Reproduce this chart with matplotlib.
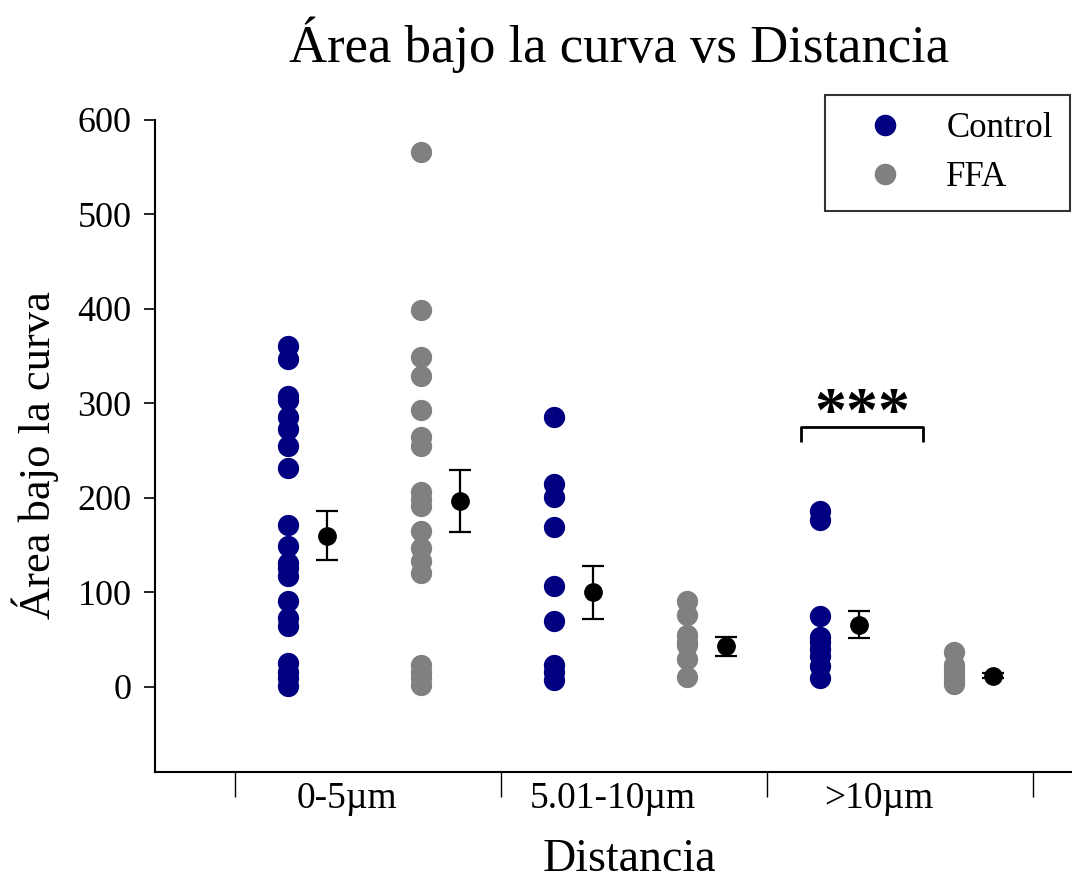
import numpy as np
import matplotlib
matplotlib.use("Agg")
import matplotlib.pyplot as plt
from matplotlib.lines import Line2D

plt.rcParams['font.family'] = ['Liberation Serif', 'DejaVu Serif']

groups = ["0-5µm", "5.01-10µm", ">10µm"]
ctrl_0_5 = [361, 347, 308, 304, 286, 273, 255, 232, 171, 149, 131, 126, 117, 91, 73, 65, 25, 16, 9, 1]
ffa_0_5 = [566, 399, 349, 329, 293, 265, 255, 206, 199, 191, 165, 147, 133, 121, 23, 16, 9, 2]
ctrl_5_10 = [286, 215, 201, 169, 107, 70, 23, 16, 7]
ffa_5_10 = [91, 76, 55, 48, 44, 30, 11]
ctrl_10 = [186, 177, 75, 53, 48, 40, 33, 22, 10]
ffa_10 = [37, 23, 18, 13, 7, 3]
means = [160, 197, 100, 43, 66, 12]
sems = [26, 33, 28, 10, 14, 3]

series = [ctrl_0_5, ffa_0_5, ctrl_5_10, ffa_5_10, ctrl_10, ffa_10]
navy = "#000080"
grey = "#808080"

fig = plt.figure(figsize=(10.72, 8.82), dpi=100)
ax = fig.add_axes([155/1072, 1-772/882, 1-155/1072, (772-120)/882])

for i, vals in enumerate(series):
    col = navy if i % 2 == 0 else grey
    ax.scatter([i]*len(vals), vals, s=235, color=col, linewidths=0, zorder=3, clip_on=False)
    ax.errorbar(i + 0.293, means[i], yerr=sems[i], fmt='o', color='black',
                markersize=12.5, elinewidth=1.6, capsize=8, capthick=1.6, zorder=4)

# significance bracket
bx0, bx1, by, bdrop = 3.857, 4.774, 275, 16
ax.plot([bx0, bx0, bx1, bx1], [by-bdrop, by, by, by-bdrop], color='black', lw=2, solid_capstyle='butt')
ax.text((bx0+bx1)/2, by-19, "***", ha='center', va='bottom', fontsize=46, fontweight='bold')

ax.set_xlim(-1.0, 5.89)
ax.set_ylim(-90, 600)
ax.set_yticks([0, 100, 200, 300, 400, 500, 600])
ax.tick_params(axis='y', direction='out', length=8, width=1.2, labelsize=26, pad=9)

ax.set_xticks([-0.4, 1.6, 3.6, 5.6])
ax.set_xticklabels([])
ax.tick_params(axis='x', which='major', direction='out', length=18, width=1, pad=0)
ax.set_xticks([0.44, 2.44, 4.44], minor=True)
ax.set_xticklabels(groups, minor=True)
ax.tick_params(axis='x', which='minor', length=0, labelsize=27, pad=7)

for s in ['top', 'right']:
    ax.spines[s].set_visible(False)
for s in ['left', 'bottom']:
    ax.spines[s].set_linewidth(1.5)

fig.text(619/1072, 1-45/882, "Área bajo la curva vs Distancia", ha='center', va='center', fontsize=38)
fig.text(35/1072, 1-455/882, "Área bajo la curva", ha='center', va='center', rotation=90, fontsize=32)
fig.text(629/1072, 1-860/882, "Distancia", ha='center', va='center', fontsize=33)

handles = [Line2D([], [], marker='o', ls='', color=navy, markersize=14.5),
           Line2D([], [], marker='o', ls='', color=grey, markersize=14.5)]
leg = fig.legend(handles, ["Control", "FFA"], loc='upper right',
                 bbox_to_anchor=(1070/1072, 1-95/882), fontsize=25, frameon=True,
                 fancybox=False, edgecolor='black', borderpad=0.5, handletextpad=0.5,
                 borderaxespad=0, labelspacing=0.45, handlelength=2.5)
leg.get_frame().set_linewidth(1.5)

fig.savefig("out.png", dpi=100)
